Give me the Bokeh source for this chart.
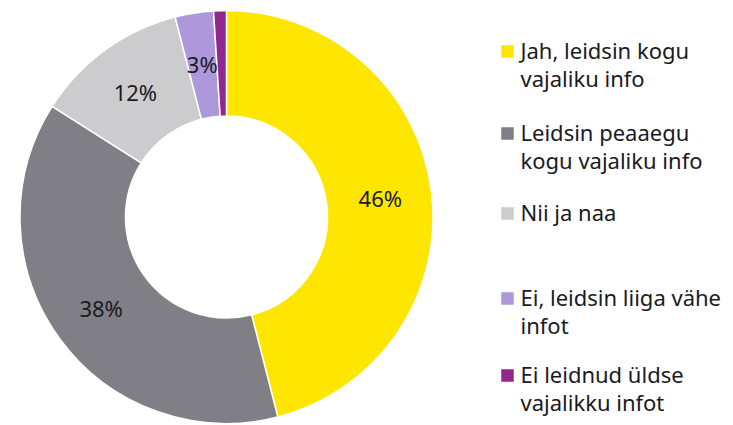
import math
from bokeh.plotting import figure
from bokeh.models import ColumnDataSource
from bokeh.core.properties import value
from bokeh.embed import file_html
from bokeh.resources import INLINE

categories = ["Jah, leidsin kogu\nvajaliku info",
              "Leidsin peaaegu\nkogu vajaliku info",
              "Nii ja naa",
              "Ei, leidsin liiga vähe\ninfot",
              "Ei leidnud üldse\nvajalikku infot"]
values = [46, 38, 12, 3, 1]
labels = ["46%", "38%", "12%", "3%", ""]
colors = ["#FFE600", "#807F85", "#CCCCCF", "#AC98DB", "#91278F"]

W, H = 733, 425
p = figure(width=W, height=H, x_range=(0, W), y_range=(0, H),
           output_backend="svg", toolbar_location=None, min_border=0)
p.axis.visible = False
p.grid.visible = False
p.outline_line_color = None
p.background_fill_color = "white"

cx, cy = 226, H - 216.5
r_in, r_out = 101, 206.5
total = sum(values)
starts, ends, lx, ly = [], [], [], []
acc = 0.0
for v in values:
    a0 = math.pi / 2 - 2 * math.pi * acc / total
    a1 = math.pi / 2 - 2 * math.pi * (acc + v) / total
    starts.append(a0)
    ends.append(a1)
    mid = (a0 + a1) / 2
    lx.append(cx + 155 * math.cos(mid))
    ly.append(cy + 155 * math.sin(mid))
    acc += v

src = ColumnDataSource(dict(start=starts, end=ends, color=colors, lx=lx, ly=ly, label=labels))
p.annular_wedge(x=cx, y=cy, inner_radius=r_in, outer_radius=r_out,
                start_angle="start", end_angle="end", direction="clock",
                fill_color="color", line_color="white", line_width=1.5, source=src)
p.text(x="lx", y="ly", text="label", source=src, text_align="center",
       text_baseline="middle", text_font=value("Noto Sans"),
       text_font_size="22px", text_color="#1a1a24")

# legend
item_mid = [H - 51, H - 133, H - 213, H - 298, H - 375]
line_h = 28
tx, ty, tt = [], [], []
for cat, yt in zip(categories, item_mid):
    for i, ln in enumerate(cat.split("\n")):
        tx.append(520)
        ty.append(yt + 2 - i * line_h)
        tt.append(ln)
p.rect(x=[507] * len(colors), y=item_mid, width=12.5, height=12.5, fill_color=colors, line_color=None)
p.text(x=tx, y=ty, text=tt, text_align="left", text_baseline="middle",
       text_font=value("Noto Sans"), text_font_size="22px", text_color="#1a1a24")

open("out.html", "w").write(file_html(p, INLINE))
